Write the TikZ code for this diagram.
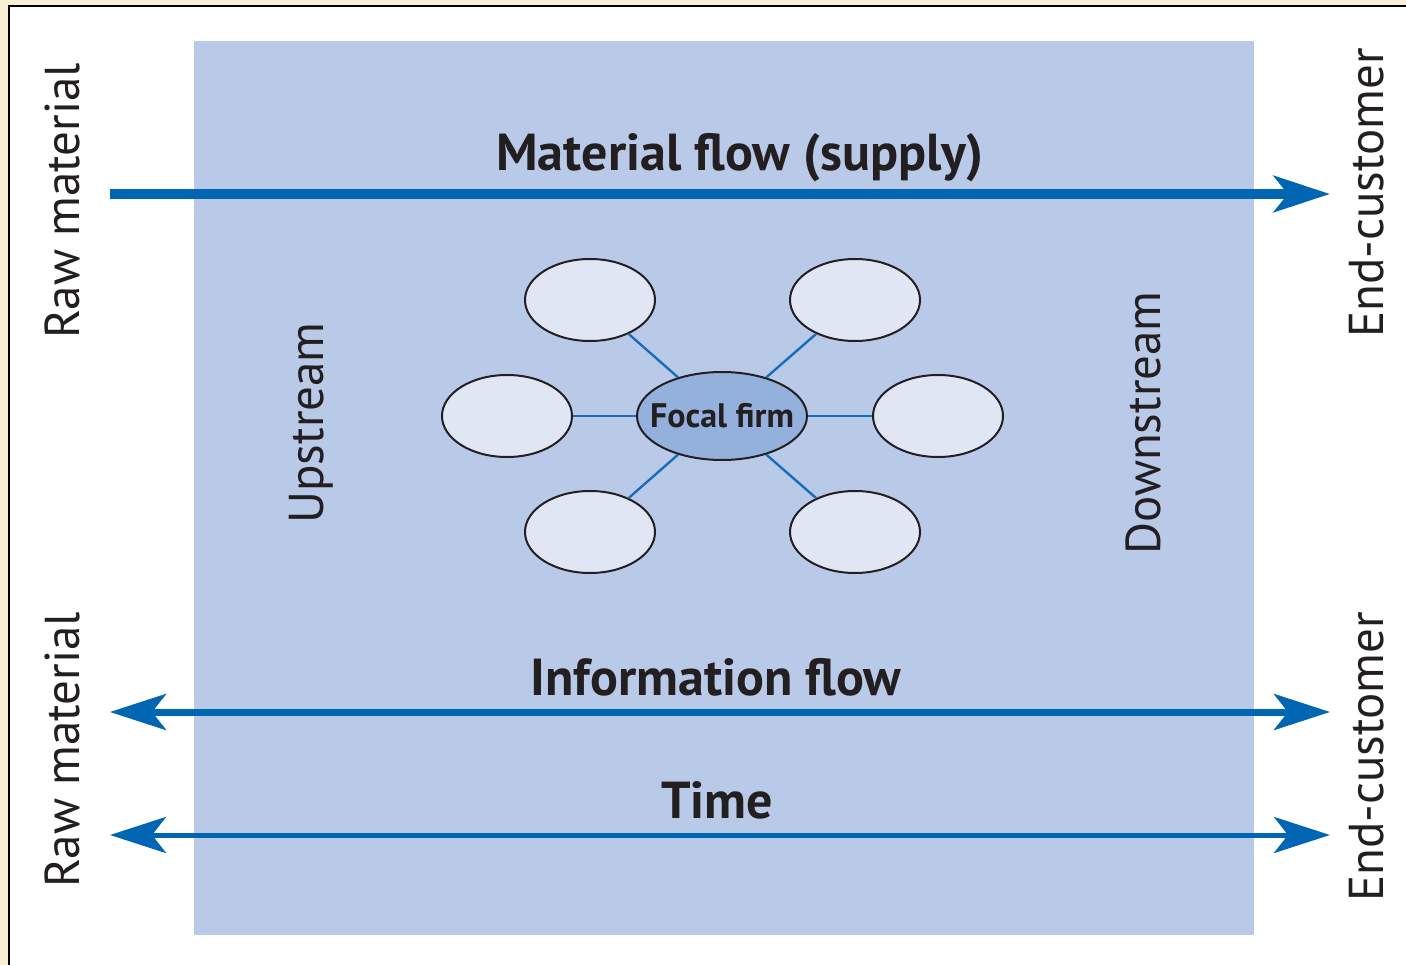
\documentclass[tikz,border=0pt]{standalone}
\usepackage{fontspec}
\setmainfont{PT Sans}
\usetikzlibrary{shapes.geometric,arrows.meta}
\definecolor{bgbeige}{HTML}{F8EFD4}
\definecolor{panel}{HTML}{B9C9E8}
\definecolor{flowblue}{HTML}{0066B3}
\definecolor{linkblue}{HTML}{1A6DB8}
\definecolor{satfill}{HTML}{E0E6F4}
\definecolor{focalfill}{HTML}{94B0DC}
\definecolor{ink}{HTML}{231F20}
\tikzset{
  sat/.style={ellipse, draw=ink, line width=2pt, fill=satfill, minimum width=130pt, minimum height=82pt, inner sep=0pt},
  focal/.style={ellipse, draw=ink, line width=2pt, fill=focalfill, minimum width=170pt, minimum height=88pt, inner sep=0pt,
    label={[font=\fontsize{34}{40}\selectfont\bfseries, text=ink, inner sep=0pt]center:#1}},
  link/.style={draw=linkblue, line width=2.4pt},
  flowtip/.tip={Stealth[length=56pt, width=36pt, inset=14pt]},
  flow/.style={draw=flowblue, line width=#1},
  lbl/.style={font=\fontsize{49}{58}\selectfont, text=ink, inner sep=0pt},
  blbl/.style={font=\fontsize{52}{62}\selectfont\bfseries, text=ink, inner sep=0pt},
}
\begin{document}
\begin{tikzpicture}[x=1pt, y=-1pt]
\useasboundingbox (0,0) rectangle (1406,965);
\fill[bgbeige] (0,0) rectangle (1406,965);
\filldraw[fill=white, draw=black, line width=2pt] (9,6) rectangle (1420,980);
\fill[panel] (194,41) rectangle (1254,935);

% flows
\coordinate (mL) at (110,194);
\coordinate (mR) at (1330,194);
\coordinate (iL) at (110,712);
\coordinate (iR) at (1330,712);
\coordinate (tL) at (110,835);
\coordinate (tR) at (1330,835);
\draw[flow=10pt, -{flowtip[flowblue]}] (mL) -- (mR);
\draw[flow=7pt, {flowtip[flowblue]}-{flowtip[flowblue]}] (iL) -- (iR);
\draw[flow=5pt, {flowtip[flowblue]}-{flowtip[flowblue]}] (tL) -- (tR);

\node[blbl] (mat) at (740,158) {Material flow (supply)};
\node[blbl] (inf) at (716,677) {Information flow};
\node[blbl] (time) at (717,800) {Time};

\node[lbl, rotate=90] (raw1) at (62,201) {Raw material};
\node[lbl, rotate=90] (raw2) at (62,750) {Raw material};
\node[lbl, rotate=90] (end1) at (1367,193) {End-customer};
\node[lbl, rotate=90] (end2) at (1367,757) {End-customer};
\node[lbl, rotate=90] (up) at (311,423) {Upstream};
\node[lbl, rotate=90] (down) at (1143,423) {Downstream};

% network
\node[sat] (s1) at (590,300) {};
\node[sat] (s2) at (855,300) {};
\node[sat] (s3) at (507,416) {};
\node[sat] (s4) at (938,416) {};
\node[sat] (s5) at (590,532) {};
\node[sat] (s6) at (855,532) {};
\node[focal={Focal firm}] (f) at (722,416) {};
\foreach \s in {s1,s2,s3,s4,s5,s6} {
  \path[link] (f) -- (\s);
}
\end{tikzpicture}
\end{document}
